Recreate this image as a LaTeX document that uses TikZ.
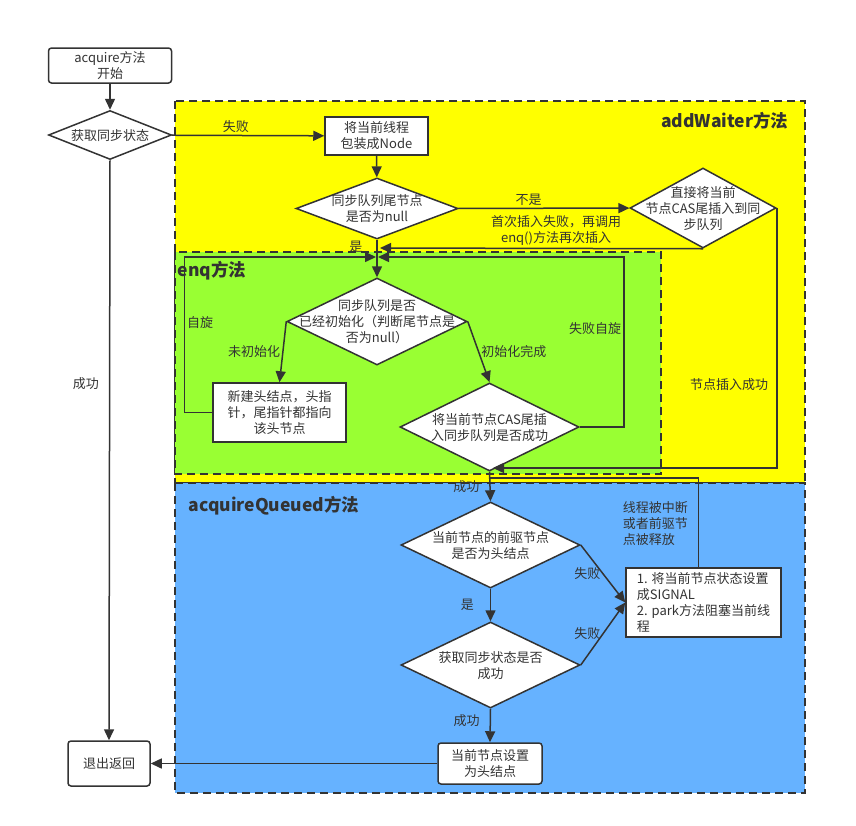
\documentclass[tikz,border=0pt]{standalone}
\usepackage{fontspec}
\setmainfont{Noto Sans CJK SC}
\usepackage{xcolor}
\usepackage{tikz}
\usetikzlibrary{shapes.geometric, arrows.meta, positioning, calc}

\definecolor{lineGray}{RGB}{51,51,51}
\definecolor{waiterYellow}{RGB}{255,255,0}
\definecolor{enqGreen}{RGB}{153,255,51}
\definecolor{queuedBlue}{RGB}{102,178,255}

% text inside a diamond, without growing it
\newcommand{\dtext}[1]{\smash{\makebox[0pt]{\raisebox{-5pt}{\begin{tabular}{@{}c@{}}#1\end{tabular}}}}}

\begin{document}
\begin{tikzpicture}[
        x=1pt, y=-1pt,
        font=\fontsize{13}{16}\selectfont,
        color=lineGray, line width=1.5pt,
        >={Triangle[length=11pt, width=10pt]},
        terminal/.style={rectangle, rounded corners=3pt, draw, fill=white, align=center, inner sep=2pt},
        process/.style={rectangle, draw, fill=white, align=center, inner sep=2pt},
        decision/.style={diamond, draw, fill=white, inner sep=0pt},
        region/.style={draw, line width=2pt, dash pattern=on 8pt off 5pt},
        title/.style={font=\fontsize{17.5}{20}\selectfont\bfseries, inner sep=1pt},
        tag/.style={inner sep=2pt}
    ]
        \useasboundingbox (0,0) rectangle (856,825);

        % Regions
        \draw[region, fill=waiterYellow] (175,101) rectangle (805,483);
        \draw[region, fill=enqGreen] (175,252) rectangle (661,474);
        \draw[region, fill=queuedBlue] (175,483) rectangle (805,793);
        \node[title, anchor=east] (waiterTitle) at (790,121) {addWaiter方法};
        \node[title, anchor=west] (enqTitle) at (176,271) {enq方法};
        \node[title, anchor=west] (queuedTitle) at (187,506) {acquireQueued方法};

        % acquire
        \node[terminal, minimum width=123pt, minimum height=35pt] (acqStart) at (110,65.5) {acquire方法\\开始};
        \node[decision, minimum width=123pt, minimum height=49pt] (getState) at (110,135) {\dtext{获取同步状态}};
        \node[terminal, minimum width=82pt, minimum height=45pt] (exitReturn) at (109,763.5) {退出返回};

        % addWaiter
        \node[process, minimum width=103pt, minimum height=38pt] (wrapNode) at (376.5,136) {将当前线程\\包装成Node};
        \node[decision, minimum width=162pt, minimum height=61pt] (tailNull) at (377,208.5) {\dtext{同步队列尾节点\\是否为null}};
        \node[decision, minimum width=146pt, minimum height=80pt] (casTail) at (703,208) {\dtext{直接将当前\\节点CAS尾插入到同\\步队列}};

        % enq
        \node[decision, minimum width=180pt, minimum height=87pt] (enqInit) at (377,321.5) {\dtext{同步队列是否\\已经初始化（判断尾节点是\\否为null）}};
        \node[process, minimum width=133pt, minimum height=59pt] (newHead) at (279.5,412.5) {新建头结点，头指\\针，尾指针都指向\\该头节点};
        \node[decision, minimum width=179pt, minimum height=88pt] (enqCas) at (489.5,427) {\dtext{将当前节点CAS尾插\\入同步队列是否成功}};

        % acquireQueued
        \node[decision, minimum width=179pt, minimum height=86pt] (isHead) at (490.5,545) {\dtext{当前节点的前驱节点\\是否为头结点}};
        \node[decision, minimum width=179pt, minimum height=86pt] (tryAcquire) at (490.5,665) {\dtext{获取同步状态是否\\成功}};
        \node[process, align=left, minimum width=155pt, minimum height=69pt] (parkBox) at (703.5,602.5) {1. 将当前节点状态设置\\成SIGNAL\\2. park方法阻塞当前线\\程};
        \node[terminal, minimum width=104pt, minimum height=41pt] (setHead) at (490,763.5) {当前节点设置\\为头结点};

        \coordinate (retryIn) at (380,248);
        \coordinate (spinL) at (376,257);
        \coordinate (spinR) at (378,257);
        \coordinate (insertIn) at (493,468);
        \coordinate (wakeIn) at (490,478);

        % Links
        \draw[->] (acqStart) -- (getState);
        \draw[->] (getState) -- node[tag, above, pos=0.42] {失败} (wrapNode);
        \draw[->] (getState.south) -- node[tag, left=8pt, pos=0.385] {成功} (exitReturn.north);
        \draw[->] (wrapNode) -- (tailNull);
        \draw[->] (tailNull) -- node[tag, above, pos=0.41] {不是} (casTail);
        \draw[->] (tailNull.south) -- node[tag, left=12pt, pos=0.18] {是} (enqInit.north);
        \draw[->] (casTail.south) -- node[tag, above, align=center, pos=0.455] {首次插入失败，再调用\\enq()方法再次插入} (retryIn);
        \draw[->] (casTail.east) |- node[tag, left=6pt, pos=0.34] {节点插入成功} (insertIn);

        % Spin loops
        \draw[->] (enqInit.west) -- node[tag, left, pos=0.5] {未初始化} (newHead.north);
        \draw[->] (enqInit.east) -- node[tag, right, pos=0.5] {初始化完成} (enqCas.north);
        \draw[->] (newHead.west) -- ++(-28,0) |- node[tag, right, pos=0.29] {自旋} (spinL);
        \draw[->] (enqCas.east) -- ++(44,0) |- node[tag, left, pos=0.29] {失败自旋} (spinR);
        \draw[->] (enqCas.south) -- node[tag, left=8pt] {成功} (isHead.north);

        % Queue
        \draw[->] (isHead.east) -- node[tag, left] {失败} (parkBox.west);
        \draw[->] (tryAcquire.east) -- node[tag, left] {失败} (parkBox.west);
        \draw ([xshift=-5pt]parkBox.north) |- node[tag, left=8pt, align=left, pos=0.245] {线程被中断\\或者前驱节\\点被释放} (wakeIn);
        \draw[->] (isHead.south) -- node[tag, left=14pt] {是} (tryAcquire.north);
        \draw[->] (tryAcquire.south) -- node[tag, left=8pt, pos=0.34] {成功} (setHead.north);
        \draw[->] (setHead.west) -- (exitReturn.east);

    \end{tikzpicture}
\end{document}
